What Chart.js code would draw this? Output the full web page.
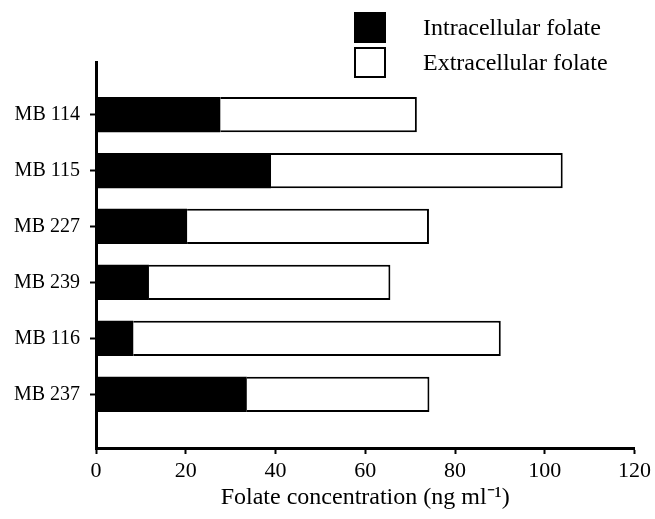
<!DOCTYPE html>
<html>
<head>
<meta charset="utf-8">
<script src="https://cdn.jsdelivr.net/npm/chart.js@4.4.1/dist/chart.umd.min.js"></script>
<style>
  html, body { margin: 0; padding: 0; background: #fff; }
  #wrap { position: relative; width: 655px; height: 519px; }
  #legend { position: absolute; left: 354px; top: 12px; font-family: "Liberation Serif", "Times New Roman", serif; font-size: 24px; color: #000; }
  .item { position: relative; height: 35px; }
  .swatch { position: absolute; left: 0; top: 0; width: 32px; height: 31px; box-sizing: border-box; border: 2px solid #000; }
  .text { position: absolute; left: 69px; top: 0; line-height: 31px; white-space: nowrap; }
</style>
</head>
<body>
<div id="wrap">
  <canvas id="chart" width="655" height="519"></canvas>
  <div id="legend"></div>
</div>
<script>
// strains, top to bottom
const categories = ['MB 114', 'MB 115', 'MB 227', 'MB 239', 'MB 116', 'MB 237'];
// folate, ng/ml
const intracellular = [27.7, 39.0, 20.3, 11.8, 8.3, 33.6];
const extracellular = [43.8, 65.0, 53.9, 53.8, 81.9, 40.7];
const seriesNames = ['Intracellular folate', 'Extracellular folate'];
const xTicks = [0, 20, 40, 60, 80, 100, 120];

const serif = '"Liberation Serif", "Times New Roman", serif';

// y is a linear scale so the axis can run past the first and last bar
const toPoints = (arr) => arr.map((v, i) => ({ x: v, y: i + 1 }));

const ctx = document.getElementById('chart').getContext('2d');

const chart = new Chart(ctx, {
    type: 'bar',
    data: {
        datasets: [{
            label: seriesNames[0],
            data: toPoints(intracellular),
            backgroundColor: '#000',
            borderColor: '#000',
            borderWidth: 0,
            barPercentage: 0.63,
            categoryPercentage: 1
        }, {
            label: seriesNames[1],
            data: toPoints(extracellular),
            backgroundColor: '#fff',
            borderColor: '#000',
            borderWidth: 2,
            borderSkipped: 'start',
            barPercentage: 0.63,
            categoryPercentage: 1
        }]
    },
    options: {
        indexAxis: 'y',
        responsive: false,
        animation: false,
        layout: { padding: { top: 62, right: 19, left: 0, bottom: 0 } },
        plugins: {
            legend: { display: false },
            tooltip: { enabled: false }
        },
        scales: {
            x: {
                type: 'linear',
                stacked: true,
                min: 0,
                max: 120,
                afterBuildTicks: (s) => { s.ticks = xTicks.map(v => ({ value: v })); },
                afterFit: (s) => { s.height = 71; },
                grid: { drawOnChartArea: false, tickLength: 6, tickWidth: 2, tickColor: '#000' },
                border: { color: '#000', width: 3 },
                ticks: { color: '#000', font: { family: serif, size: 22 }, padding: 4, maxRotation: 0 },
                title: {
                    display: true,
                    text: 'Folate concentration (ng ml\u207B\u00B9)',
                    color: '#000',
                    font: { family: serif, size: 24 },
                    padding: { top: 0, bottom: 7 }
                }
            },
            y: {
                type: 'linear',
                stacked: true,
                reverse: true,
                offset: false,
                min: 0.06,
                max: 6.96,
                afterBuildTicks: (s) => { s.ticks = categories.map((c, i) => ({ value: i + 1 })); },
                afterFit: (s) => { s.width = 96; },
                grid: { offset: false, drawOnChartArea: false, tickLength: 6, tickWidth: 2, tickColor: '#000' },
                border: { color: '#000', width: 3 },
                ticks: {
                    color: '#000',
                    font: { family: serif, size: 20 },
                    padding: 10,
                    callback: (v) => categories[v - 1]
                }
            }
        }
    }
});

// legend built from the datasets
const legendEl = document.getElementById('legend');
chart.data.datasets.forEach((ds) => {
    const item = document.createElement('div');
    item.className = 'item';
    const sw = document.createElement('div');
    sw.className = 'swatch';
    sw.style.background = ds.backgroundColor;
    const txt = document.createElement('div');
    txt.className = 'text';
    txt.textContent = ds.label;
    item.appendChild(sw);
    item.appendChild(txt);
    legendEl.appendChild(item);
});
</script>
</body>
</html>
